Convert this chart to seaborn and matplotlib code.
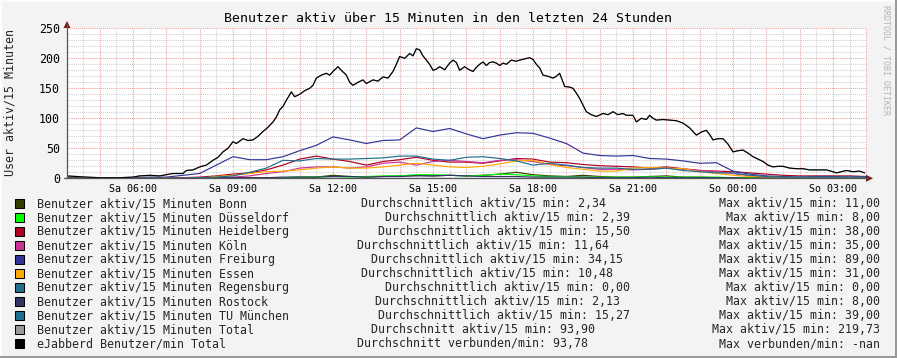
import numpy as np
import pandas as pd
import matplotlib
matplotlib.use("Agg")
import matplotlib.pyplot as plt
import seaborn as sns
from matplotlib.patches import Rectangle, Polygon
from matplotlib.lines import Line2D
from matplotlib.ticker import MultipleLocator, FuncFormatter

# ---------------- data ----------------
hours = np.arange(4.0, 28.01, 0.5)  # half-hour grid (hours since Saturday 00:00)

bonn = [1,1,0,0,0,0,0,1,1,1, 1,1,1,1,2,2,5,3,2,3, 4,5,4,5,4,5,7,10,6,4,
        3,5,3,2,2,3,4,2,2,1, 1,1,1,0,1,1,0,1,1]
duesseldorf = [0,0,0,0,0,0,0,0,0,0, 0,0,0,1,2,2,3,2,3,4, 4,6,6,5,4,5,7,6,4,3,
               3,2,2,2,2,3,2,2,2,2, 1,1,0,1,0,0,1,0,0]
heidelberg = [0,0,0,0,0,0,0,1,2,4, 7,9,14,22,32,37,32,28,22,28, 31,35,30,27,27,25,29,33,32,27,
              26,23,21,20,19,17,19,16,13,12, 11,9,7,5,4,4,4,4,3]
koeln = [0,0,0,0,0,0,0,0,0,0, 2,4,8,11,17,19,19,17,19,25, 27,22,28,30,28,26,30,31,28,23,
         21,18,15,15,14,15,17,15,13,11, 8,4,2,2,1,1,1,1,1]
freiburg = [1,0,0,1,1,2,2,5,8,22, 36,31,31,36,46,55,69,64,58,63, 64,84,78,83,74,66,72,76,75,67,
            58,42,38,37,38,33,32,29,25,26, 12,7,4,3,2,3,3,2,3]
essen = [0,0,0,0,0,0,0,0,0,3, 5,8,11,12,14,17,19,17,17,19, 22,25,22,19,18,20,24,29,30,23,
         18,15,12,12,17,18,17,16,11,8, 5,3,2,1,1,1,1,1,0]
regensburg = [0,0,0,0,0,0,0,0,0,0, 0,0,0,0,0,0,0,0,0,0, 0,0,0,0,0,0,0,0,0,0,
              0,0,0,0,0,0,0,0,0,0, 0,0,0,0,0,0,0,0,0]
rostock = [0,0,0,0,0,0,0,0,0,1, 1,1,1,2,2,2,3,3,2,3, 3,4,4,5,4,3,3,3,2,2,
           2,2,1,1,1,2,1,1,1,1, 1,0,0,0,0,0,0,0,0]
tu_muenchen = [0,0,0,0,0,0,0,0,1,2, 4,10,17,30,29,33,32,32,33,34, 37,37,32,30,35,36,33,29,22,25,
               22,18,17,17,15,15,17,13,11,9, 9,5,3,2,2,2,2,2,2]

total_t = [4.0,4.3,4.6,5.0,5.3,5.6,6.0,6.2,6.5,6.8,7.0,7.2,7.5,7.6,7.8,8.0,8.2,8.4,8.55,8.7,
           8.85,9.0,9.1,9.3,9.45,9.6,9.75,9.9,10.05,10.2,10.3,10.4,10.5,10.6,10.75,10.85,11.0,
           11.15,11.3,11.4,11.5,11.65,11.8,11.9,12.0,12.15,12.25,12.4,12.5,12.6,12.75,12.9,13.0,
           13.2,13.35,13.5,13.65,13.8,13.9,14.0,14.15,14.3,14.4,14.5,14.6,14.7,14.8,14.9,15.0,
           15.1,15.2,15.35,15.5,15.6,15.7,15.8,15.95,16.05,16.2,16.3,16.4,16.5,16.6,16.7,16.8,
           16.9,17.0,17.1,17.2,17.35,17.5,17.6,17.75,17.9,18.0,18.1,18.2,18.3,18.45,18.6,18.7,
           18.8,18.9,18.95,19.1,19.2,19.3,19.4,19.5,19.6,19.75,19.9,20.1,20.25,20.4,20.55,20.7,
           20.8,21.0,21.1,21.25,21.4,21.5,21.6,21.7,21.9,22.1,22.3,22.5,22.7,22.9,23.05,23.2,
           23.3,23.4,23.55,23.7,23.85,24.0,24.15,24.3,24.45,24.6,24.75,24.9,25.05,25.2,25.35,
           25.5,25.7,25.9,26.1,26.3,26.5,26.8,27.0,27.1,27.25,27.4,27.6,27.8,27.95]
total_v = [4,3,2,1,1,1,2,4,5,4,6,8,8,13,14,19,22,30,35,44,
           50,61,58,66,63,64,70,78,85,94,102,114,120,130,144,136,140,
           146,150,155,167,172,175,172,178,186,180,172,160,155,160,164,158,
           164,162,169,167,178,190,203,200,208,204,216,214,204,197,190,180,
           182,186,181,192,197,193,180,186,182,178,185,190,194,188,193,194,
           192,188,192,190,197,195,197,199,201,198,190,184,172,170,167,170,
           175,160,153,152,150,142,133,122,111,106,103,108,106,111,106,108,
           105,105,94,100,98,105,100,97,98,97,96,92,84,72,77,80,
           73,64,66,66,57,44,46,47,42,36,32,28,22,19,20,
           20,17,16,16,14,14,14,11,9,11,13,11,12,9]
ejabberd_t = total_t
ejabberd_v = total_v

series_names = ["Bonn", "Düsseldorf", "Heidelberg", "Köln", "Freiburg", "Essen",
                "Regensburg", "Rostock", "TU München", "Total", "eJabberd"]
series_colors = ["#333d00", "#00ff00", "#b00020", "#cc3399", "#333399", "#ffaa00",
                 "#1f6f8f", "#333366", "#1f6f8f", "#999999", "#000000"]
legend_labels = ["Benutzer aktiv/15 Minuten Bonn", "Benutzer aktiv/15 Minuten Düsseldorf",
                 "Benutzer aktiv/15 Minuten Heidelberg", "Benutzer aktiv/15 Minuten Köln",
                 "Benutzer aktiv/15 Minuten Freiburg", "Benutzer aktiv/15 Minuten Essen",
                 "Benutzer aktiv/15 Minuten Regensburg", "Benutzer aktiv/15 Minuten Rostock",
                 "Benutzer aktiv/15 Minuten TU München", "Benutzer aktiv/15 Minuten Total",
                 "eJabberd Benutzer/min Total"]
avg_texts = ["Durchschnittlich aktiv/15 min: 2,34", "Durchschnittlich aktiv/15 min: 2,39",
             "Durchschnittlich aktiv/15 min: 15,50", "Durchschnittlich aktiv/15 min: 11,64",
             "Durchschnittlich aktiv/15 min: 34,15", "Durchschnittlich aktiv/15 min: 10,48",
             "Durchschnittlich aktiv/15 min: 0,00", "Durchschnittlich aktiv/15 min: 2,13",
             "Durchschnittlich aktiv/15 min: 15,27", "Durchschnitt aktiv/15 min: 93,90",
             "Durchschnitt verbunden/min: 93,78"]
max_texts = ["Max aktiv/15 min: 11,00", "Max aktiv/15 min: 8,00", "Max aktiv/15 min: 38,00",
             "Max aktiv/15 min: 35,00", "Max aktiv/15 min: 89,00", "Max aktiv/15 min: 31,00",
             "Max aktiv/15 min: 0,00", "Max aktiv/15 min: 8,00", "Max aktiv/15 min: 39,00",
             "Max aktiv/15 min: 219,73", "Max verbunden/min: -nan"]

title = "Benutzer aktiv über 15 Minuten in den letzten 24 Stunden"
ylabel = "User aktiv/15 Minuten"
watermark = "RRDTOOL / TOBI OETIKER"

# ---------------- build long table ----------------
grid_vals = [bonn, duesseldorf, heidelberg, koeln, freiburg, essen,
             regensburg, rostock, tu_muenchen]
frames = []
for name, vals in zip(series_names[:9], grid_vals):
    frames.append(pd.DataFrame({"t": hours, "v": vals, "series": name}))
frames.append(pd.DataFrame({"t": total_t, "v": total_v, "series": "Total"}))
frames.append(pd.DataFrame({"t": ejabberd_t, "v": ejabberd_v, "series": "eJabberd"}))
df = pd.concat(frames, ignore_index=True)

# ---------------- figure ----------------
sns.set_theme(style="white")
plt.rcParams["font.family"] = ["DejaVu Sans Mono", "DejaVu Sans"]

W, H = 897, 358
fig = plt.figure(figsize=(W / 100, H / 100), dpi=100, facecolor="#f3f3f3")

def fx(x):
    return x / W

def fy(y):
    return 1 - y / H

y0, y250 = 178.3, 28.3
ax = fig.add_axes([fx(67), fy(y0), fx(867) - fx(67), (y0 - y250) / H])
ax.set_facecolor("white")

sns.lineplot(data=df, x="t", y="v", hue="series", hue_order=series_names,
             palette=dict(zip(series_names, series_colors)), estimator=None,
             linewidth=0.85, legend=False, ax=ax)

ax.set_xlim(4.02, 28.02)
ax.set_ylim(0, 250)
ax.set_xlabel("")
ax.set_ylabel("")
for s in ax.spines.values():
    s.set_visible(False)

ax.xaxis.set_major_locator(MultipleLocator(1))
ax.xaxis.set_minor_locator(MultipleLocator(0.5))
ax.yaxis.set_major_locator(MultipleLocator(50))
ax.yaxis.set_minor_locator(MultipleLocator(10))

def xfmt(t, pos):
    h = int(round(t))
    if abs(t - h) > 1e-6 or h % 3 != 0:
        return ""
    day = "Sa" if h < 24 else "So"
    return f"{day} {h % 24:02d}:00"

ax.xaxis.set_major_formatter(FuncFormatter(xfmt))
ax.yaxis.set_major_formatter(FuncFormatter(lambda v, p: f"{int(v)}"))
ax.grid(which="major", color="#f0a0a0", linestyle=(0, (1, 1)), linewidth=0.75)
ax.grid(which="minor", color="#cfcfcf", linestyle=(0, (1, 1)), linewidth=0.75)
ax.set_axisbelow(True)
ax.tick_params(axis="x", which="both", length=0, pad=4, labelsize=7.2, colors="#000000")
ax.tick_params(axis="y", which="both", length=0, pad=5, labelsize=8.37, colors="#000000")

# axis lines and arrows
axcol = "#555555"
arrowcol = "#7a1a1a"
fig.add_artist(Line2D([fx(67), fx(67)], [fy(y0), fy(24)], color=axcol, lw=0.9))
fig.add_artist(Line2D([fx(64), fx(868)], [fy(y0), fy(y0)], color=axcol, lw=0.9))
fig.add_artist(Polygon([(fx(63.5), fy(28)), (fx(70.5), fy(28)), (fx(67), fy(21))],
                       closed=True, color=arrowcol, lw=0))
fig.add_artist(Polygon([(fx(866), fy(y0 - 3.5)), (fx(866), fy(y0 + 3.5)), (fx(873), fy(y0))],
                       closed=True, color=arrowcol, lw=0))

# texts
fig.text(fx(447.5), fy(19), title, ha="center", va="center", fontsize=9.55, color="#000000")
fig.text(fx(10), fy(103), ylabel, rotation=90, ha="center", va="center", fontsize=8.37)
fig.text(fx(886), fy(60), watermark, rotation=270, ha="center", va="center",
         fontsize=6, color="#b4b4b4")

# legend (RRDtool justified)
cw = 7.0
fs_leg = 8.37
for i, (lab, av, mx, col) in enumerate(zip(legend_labels, avg_texts, max_texts, series_colors)):
    yc = 203.7 + 14 * i
    fig.add_artist(Rectangle((fx(15), fy(yc + 4.5)), 9 / W, 9 / H, facecolor=col,
                             edgecolor="#000000", lw=0.75))
    lab_end = 37 + len(lab) * cw
    max_start = 880 - len(mx) * cw
    avg_x = lab_end + (max_start - lab_end - len(av) * cw) / 2
    fig.text(fx(37), fy(yc), lab, ha="left", va="center", fontsize=fs_leg)
    fig.text(fx(avg_x), fy(yc), av, ha="left", va="center", fontsize=fs_leg)
    fig.text(fx(880), fy(yc), mx, ha="right", va="center", fontsize=fs_leg)

# 3D-like frame
fig.add_artist(Rectangle((0, fy(2)), 1, 2 / H, facecolor="#fcfcfc", lw=0))
fig.add_artist(Rectangle((0, 0), 2 / W, 1, facecolor="#fcfcfc", lw=0))
fig.add_artist(Rectangle((0, 0), 1, 2 / H, facecolor="#9a9a9a", lw=0))
fig.add_artist(Rectangle((1 - 2 / W, 0), 2 / W, 1, facecolor="#9a9a9a", lw=0))

fig.savefig("out.png", dpi=100, facecolor=fig.get_facecolor())
